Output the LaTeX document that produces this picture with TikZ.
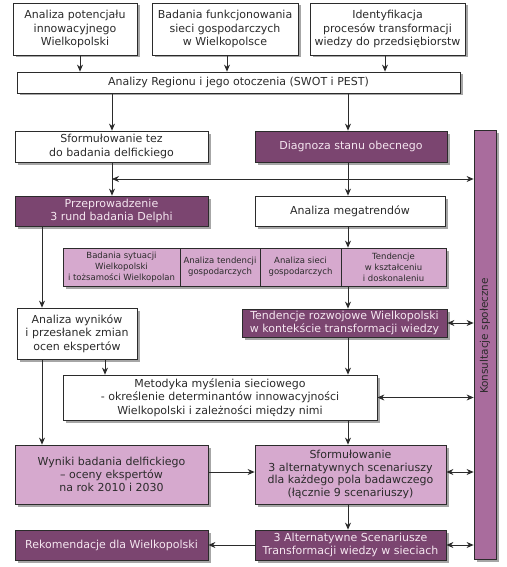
\documentclass[tikz,border=0pt]{standalone}
\usepackage{fontspec}
\setmainfont{DejaVu Sans}
\usetikzlibrary{shadows,arrows.meta,calc}
\definecolor{dpur}{HTML}{7B4570}
\definecolor{lpur}{HTML}{D6A9CE}
\definecolor{bpur}{HTML}{A96C9D}
\definecolor{lncol}{HTML}{2B2B2B}
\definecolor{ltxt}{HTML}{F5E6F0}
\begin{document}
\begin{tikzpicture}[x=1pt,y=-1pt,
  box/.style={draw=lncol, line width=0.8pt, inner sep=0pt, align=center,
    font=\fontsize{11}{13.3}\selectfont, text=lncol,
    drop shadow={shadow xshift=2.5pt,shadow yshift=-2.5pt,opacity=0.35,fill=black}},
  wbox/.style={box, fill=white},
  dbox/.style={box, fill=dpur, text=ltxt},
  lbox/.style={box, fill=lpur},
  cell/.style={lbox, font=\fontsize{8.5}{11}\selectfont},
  arr/.style={draw=lncol, line width=0.8pt, -{Stealth[length=7pt,width=6pt]}},
  darr/.style={draw=lncol, line width=0.8pt, {Stealth[length=7pt,width=6pt]}-{Stealth[length=7pt,width=6pt]}},
]
\useasboundingbox[fill=white] (0,0) rectangle (506,567);
\coordinate (lc) at (112,0);
\coordinate (rc) at (348,0);
\coordinate (fc) at (42,0);
\coordinate (wc) at (105,0);

% top row
\node[wbox, minimum width=124pt, minimum height=52pt] (A) at (75,29)
  {Analiza potencjału\\innowacyjnego\\Wielkopolski};
\node[wbox, minimum width=146pt, minimum height=52pt] (B) at (225,29)
  {Badania funkcjonowania\\sieci gospodarczych\\w Wielkopolsce};
\node[wbox, minimum width=155pt, minimum height=52pt] (C) at (387.5,29)
  {Identyfikacja\\procesów transformacji\\wiedzy do przedsiębiorstw};
\node[wbox, minimum width=443pt, minimum height=21pt] (D) at (238.5,82.5)
  {Analizy Regionu i jego otoczenia (SWOT i PEST)};

% bar
\node[box, fill=bpur, minimum width=22pt, minimum height=429pt] (bar) at (485,344.5) {};
\node[rotate=90, inner sep=0pt, font=\fontsize{10.5}{12}\selectfont, text=lncol] (bart)
  at ([yshift=8.5pt]bar.center) {Konsultacje społeczne};

\node[wbox, minimum width=193pt, minimum height=31pt] (Sform) at (111.5,146.5)
  {Sformułowanie tez\\do badania delfickiego};
\node[dbox, minimum width=192pt, minimum height=31pt] (Diag) at (351,146.5)
  {Diagnoza stanu obecnego};
\node[dbox, minimum width=193pt, minimum height=30pt] (Przep) at (111.5,211)
  {Przeprowadzenie\\3 rund badania Delphi};
\node[wbox, minimum width=190pt, minimum height=30pt] (Mega) at (350,211)
  {Analiza megatrendów};

% row of cells
\node[cell, minimum width=117pt, minimum height=38pt] (c1) at (121.5,267)
  {Badania sytuacji\\Wielkopolski\\i tożsamości Wielkopolan};
\node[cell, minimum width=80pt, minimum height=38pt] (c2) at (220,267)
  {Analiza tendencji\\gospodarczych};
\node[cell, minimum width=81pt, minimum height=38pt] (c3) at (300.5,267)
  {Analiza sieci\\gospodarczych};
\node[cell, minimum width=105pt, minimum height=38pt] (c4) at (393.5,267)
  {Tendencje\\w kształceniu\\i doskonaleniu};

\node[dbox, minimum width=205pt, minimum height=28pt] (Tend) at (344.5,323)
  {Tendencje rozwojowe Wielkopolski\\w kontekście transformacji wiedzy};
\node[wbox, minimum width=120pt, minimum height=51pt] (AW) at (77,333.5)
  {Analiza wyników\\i przesłanek zmian\\ocen ekspertów};
\node[wbox, minimum width=314pt, minimum height=45pt] (Met) at (220,397.5)
  {Metodyka myślenia sieciowego\\- określenie determinantów innowacyjności\\Wielkopolski i zależności między nimi};
\node[lbox, minimum width=193pt, minimum height=59pt] (Wyn) at (111.5,474.5)
  {Wyniki badania delfickiego\\– oceny ekspertów\\na rok 2010 i 2030};
\node[lbox, minimum width=191pt, minimum height=59pt, font=\fontsize{11}{12.7}\selectfont] (Sf3) at (350.5,474.5)
  {Sformułowanie\\3 alternatywnych scenariuszy\\dla każdego pola badawczego\\(łącznie 9 scenariuszy)};
\node[dbox, minimum width=191pt, minimum height=30pt] (Alt) at (350.5,545)
  {3 Alternatywne Scenariusze\\Transformacji wiedzy w sieciach};
\node[dbox, minimum width=193pt, minimum height=30pt] (Rek) at (111.5,545)
  {Rekomendacje dla Wielkopolski};

% connectors
\draw[arr] ([xshift=5pt]A.south) -- ([xshift=5pt]A.south |- D.north);
\draw[arr] ([xshift=2pt]B.south) -- ([xshift=2pt]B.south |- D.north);
\draw[arr] ([xshift=-2.5pt]C.south) -- ([xshift=-2.5pt]C.south |- D.north);
\draw[arr] (D.south -| lc) -- (Sform.north -| lc);
\draw[arr] (D.south -| rc) -- (Diag.north -| rc);
\draw[arr] (Sform.south -| lc) -- (Przep.north -| lc);
\coordinate (hj) at ($(Sform.south -| lc)!0.5!(Przep.north -| lc)$);
\draw[darr] (hj) -- (hj -| bar.west);
\draw[arr] (Diag.south -| rc) -- (Mega.north -| rc);
\draw[arr] (Mega.south -| rc) -- (c4.north -| rc);
\draw[arr] (Przep.south -| fc) -- (AW.north -| fc);
\draw[arr] (c4.south -| rc) -- (Tend.north -| rc);
\draw[darr] (Tend.east) -- (Tend.east -| bar.west);
\draw[arr] (AW.south -| wc) -- (Met.north -| wc);
\draw[arr] (AW.south -| fc) -- (Wyn.north -| fc);
\draw[arr] (Tend.south -| rc) -- (Met.north -| rc);
\draw[darr] (Met.east) -- (Met.east -| bar.west);
\draw[arr] (Met.south -| rc) -- (Sf3.north -| rc);
\draw[arr] ([yshift=2.5pt]Wyn.east) -- ([yshift=2.5pt]Wyn.east -| Sf3.west);
\draw[darr] ([yshift=2.5pt]Sf3.east) -- ([yshift=2.5pt]Sf3.east -| bar.west);
\draw[arr] (Sf3.south -| rc) -- (Alt.north -| rc);
\draw[arr] (Alt.west) -- (Rek.east);
\draw[darr] (Alt.east) -- (Alt.east -| bar.west);
\end{tikzpicture}
\end{document}
